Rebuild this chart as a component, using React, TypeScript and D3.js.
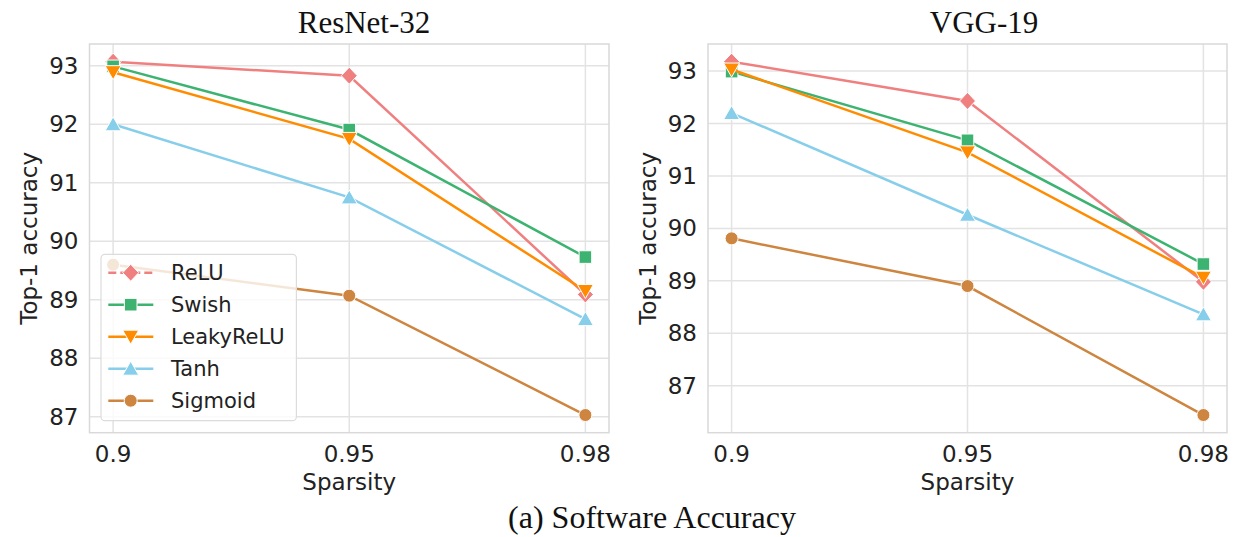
import React from 'react';
import * as d3 from 'd3';

const sparsity = ['0.9', '0.95', '0.98'];
const activations = ['ReLU', 'Swish', 'LeakyReLU', 'Tanh', 'Sigmoid'];
const seriesColors = ['#F08080', '#3CB371', '#FF8C00', '#87CEEB', '#CD853F'];
const markerKinds = ['diamond', 'square', 'triDown', 'triUp', 'circle'];

const resnetReLU = [93.07, 92.83, 89.09];
const resnetSwish = [92.99, 91.91, 89.73];
const resnetLeakyReLU = [92.89, 91.75, 89.15];
const resnetTanh = [92.0, 90.75, 88.67];
const resnetSigmoid = [89.6, 89.07, 87.03];

const vggReLU = [93.18, 92.43, 88.98];
const vggSwish = [92.99, 91.68, 89.32];
const vggLeakyReLU = [93.03, 91.45, 89.06];
const vggTanh = [92.2, 90.26, 88.36];
const vggSigmoid = [89.81, 88.9, 86.44];

const yTicks = [87, 88, 89, 90, 91, 92, 93];
const panelTitles = ['ResNet-32', 'VGG-19'];
const xLabel = 'Sparsity';
const yLabel = 'Top-1 accuracy';
const caption = '(a) Software Accuracy';

const panels = [
  { title: panelTitles[0], series: [resnetReLU, resnetSwish, resnetLeakyReLU, resnetTanh, resnetSigmoid], x0: 89.5, x1: 609, titleX: 364, legend: true },
  { title: panelTitles[1], series: [vggReLU, vggSwish, vggLeakyReLU, vggTanh, vggSigmoid], x0: 708, x1: 1227, titleX: 984, legend: false },
];

const Y0 = 44;
const Y1 = 432.7;
const SANS = 'DejaVu Sans, sans-serif';
const SERIF = '"Liberation Serif", "Times New Roman", serif';

function markerPath(kind: string): string {
  switch (kind) {
    case 'diamond':
      return 'M0,-8.5L8,0L0,8.5L-8,0Z';
    case 'square':
      return 'M-6.3,-6.3H6.3V6.3H-6.3Z';
    case 'triDown':
      return 'M-8,-6.5L8,-6.5L0,7.5Z';
    case 'triUp':
      return 'M0,-7.5L8,6.5L-8,6.5Z';
    default:
      return d3.symbol().type(d3.symbolCircle).size(Math.PI * 6.5 * 6.5)() || '';
  }
}

function Panel({ p }: { p: typeof panels[0] }) {
  const all = p.series.flat();
  const mn = d3.min(all)!;
  const mx = d3.max(all)!;
  const m = (mx - mn) * 0.05;
  const y = d3.scaleLinear().domain([mn - m, mx + m]).range([Y1, Y0]);
  const x = d3.scalePoint<string>().domain(sparsity).range([p.x0, p.x1]).padding(0.1);
  const line = d3.line<number>().x((_, i) => x(sparsity[i])!).y((d) => y(d));
  const yc = (Y0 + Y1) / 2;
  return (
    <g>
      <rect x={p.x0} y={Y0} width={p.x1 - p.x0} height={Y1 - Y0} fill="#fff" />
      {yTicks.map((t) => (
        <line key={'gy' + t} x1={p.x0} x2={p.x1} y1={y(t)} y2={y(t)} stroke="#e3e3e3" strokeWidth={1.5} />
      ))}
      {sparsity.map((s) => (
        <line key={'gx' + s} x1={x(s)} x2={x(s)} y1={Y0} y2={Y1} stroke="#e3e3e3" strokeWidth={1.5} />
      ))}
      <rect x={p.x0} y={Y0} width={p.x1 - p.x0} height={Y1 - Y0} fill="none" stroke="#d9d9d9" strokeWidth={1.5} />
      {yTicks.map((t) => (
        <text key={'ty' + t} x={p.x0 - 11} y={y(t)} dy="0.35em" textAnchor="end" fontFamily={SANS} fontSize={23} fill="#222">
          {t}
        </text>
      ))}
      {sparsity.map((s) => (
        <text key={'tx' + s} x={x(s)} y={461.5} textAnchor="middle" fontFamily={SANS} fontSize={23} fill="#222">
          {s}
        </text>
      ))}
      <text x={(p.x0 + p.x1) / 2} y={489.5} textAnchor="middle" fontFamily={SANS} fontSize={23} fill="#222">
        {xLabel}
      </text>
      <text transform={`translate(${p.x0 - 52.5},${yc}) rotate(-90)`} textAnchor="middle" fontFamily={SANS} fontSize={23} fill="#222">
        {yLabel}
      </text>
      <text x={p.titleX} y={32.5} textAnchor="middle" fontFamily={SERIF} fontSize={31} fill="#111">
        {p.title}
      </text>
      {p.series.map((vals, si) => (
        <g key={'s' + si}>
          <path d={line(vals) || ''} fill="none" stroke={seriesColors[si]} strokeWidth={2.5} />
          {vals.map((v, i) => (
            <path
              key={i}
              d={markerPath(markerKinds[si])}
              transform={`translate(${x(sparsity[i])},${y(v)})`}
              fill={seriesColors[si]}
              stroke="#fff"
              strokeWidth={1}
            />
          ))}
        </g>
      ))}
      {p.legend && (
        <g>
          <rect x={101} y={254.3} width={195.4} height={166.4} rx={4} fill="rgba(255,255,255,0.8)" stroke="#dcdcdc" strokeWidth={1.2} />
          {activations.map((a, i) => {
            const ly = 272.7 + i * 32;
            return (
              <g key={'lg' + a}>
                <line x1={108.3} x2={153.3} y1={ly} y2={ly} stroke={seriesColors[i]} strokeWidth={2.5} strokeDasharray={i === 0 ? '8,4' : undefined} />
                <path d={markerPath(markerKinds[i])} transform={`translate(130.7,${ly})`} fill={seriesColors[i]} stroke="#fff" strokeWidth={1} />
                <text x={171} y={ly} dy="0.36em" fontFamily={SANS} fontSize={21} fill="#222">
                  {a}
                </text>
              </g>
            );
          })}
        </g>
      )}
    </g>
  );
}

export default function App() {
  return (
    <svg width={1234} height={537} style={{ position: 'absolute', left: 0, top: 0, background: '#fff' }}>
      <rect width={1234} height={537} fill="#fff" />
      {panels.map((p) => (
        <Panel key={p.title} p={p} />
      ))}
      <text x={652} y={528.3} textAnchor="middle" fontFamily={SERIF} fontSize={32} fill="#111">
        {caption}
      </text>
    </svg>
  );
}
